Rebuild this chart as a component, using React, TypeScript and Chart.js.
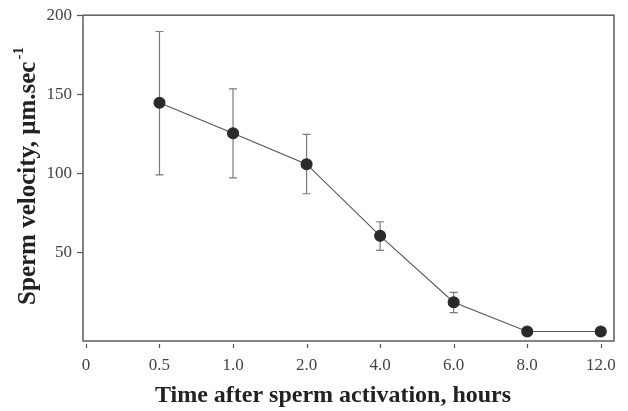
import React, { useEffect, useRef } from "react";
import { Chart, registerables } from "chart.js";

Chart.register(...registerables);

const timeLabels = ["0", "0.5", "1.0", "2.0", "4.0", "6.0", "8.0", "12.0"];
const sampleTimes = ["0.5", "1.0", "2.0", "4.0", "6.0", "8.0", "12.0"];
const meanVelocity = [144.6, 125.4, 105.8, 60.5, 18.5, 0, 0];
const errUpper = [189.7, 153.4, 124.6, 69.4, 24.8, null, null];
const errLower = [99.1, 97.2, 87.1, 51.3, 11.9, null, null];
const yTickValues = [50, 100, 150, 200];

const FONT = "'Liberation Serif', 'Times New Roman', serif";

export default function App() {
  const ref = useRef<HTMLCanvasElement | null>(null);

  useEffect(() => {
    const canvas = ref.current;
    if (!canvas) return;

    const points = sampleTimes.map((t, i) => ({ x: timeLabels.indexOf(t), y: meanVelocity[i] }));

    const errorBars = {
      id: "errorBars",
      beforeDatasetsDraw(chart: any) {
        const { ctx, scales } = chart;
        const xs = scales.x, ys = scales.y;
        ctx.save();
        ctx.strokeStyle = "#7a7a7a";
        ctx.lineWidth = 1.2;
        sampleTimes.forEach((t, i) => {
          const hi = errUpper[i], lo = errLower[i];
          if (hi == null || lo == null) return;
          const px = xs.getPixelForValue(timeLabels.indexOf(t));
          const yh = ys.getPixelForValue(hi);
          const yl = ys.getPixelForValue(lo);
          ctx.beginPath();
          ctx.moveTo(px, yh); ctx.lineTo(px, yl);
          ctx.moveTo(px - 4, yh); ctx.lineTo(px + 4, yh);
          ctx.moveTo(px - 4, yl); ctx.lineTo(px + 4, yl);
          ctx.stroke();
        });
        ctx.restore();
      },
    };

    const frame = {
      id: "frame",
      afterDraw(chart: any) {
        const { ctx, chartArea: a, scales } = chart;
        ctx.save();
        ctx.strokeStyle = "#666";
        ctx.lineWidth = 1.6;
        ctx.strokeRect(a.left, a.top, a.right - a.left, a.bottom - a.top);
        ctx.lineWidth = 1.2;
        ctx.strokeStyle = "#555";
        timeLabels.forEach((_, i) => {
          const px = Math.round(scales.x.getPixelForValue(i)) + 0.5;
          ctx.beginPath();
          ctx.moveTo(px, a.bottom + 3);
          ctx.lineTo(px, a.bottom + 7);
          ctx.stroke();
        });
        yTickValues.forEach((v) => {
          const py = Math.round(scales.y.getPixelForValue(v)) + 0.5;
          ctx.beginPath();
          ctx.moveTo(a.left - 6, py);
          ctx.lineTo(a.left, py);
          ctx.stroke();
        });
        ctx.fillStyle = "#222";
        ctx.font = `bold 24px ${FONT}`;
        ctx.textAlign = "center";
        ctx.textBaseline = "alphabetic";
        ctx.fillText("Time after sperm activation, hours", 333, 402);

        ctx.translate(35, 176);
        ctx.rotate(-Math.PI / 2);
        const main = "Sperm velocity, μm.sec";
        const sup = "-1";
        ctx.font = `bold 25px ${FONT}`;
        const wMain = ctx.measureText(main).width;
        ctx.font = `bold 15px ${FONT}`;
        const wSup = ctx.measureText(sup).width;
        const total = wMain + wSup + 2;
        ctx.textAlign = "left";
        ctx.font = `bold 25px ${FONT}`;
        ctx.fillText(main, -total / 2, 0);
        ctx.font = `bold 15px ${FONT}`;
        ctx.fillText(sup, -total / 2 + wMain + 2, -12);
        ctx.restore();
      },
    };

    const chart = new Chart(canvas, {
      type: "scatter",
      data: {
        datasets: [
          {
            data: points,
            showLine: true,
            borderColor: "#555",
            borderWidth: 1.1,
            backgroundColor: "#2a2a2a",
            pointBackgroundColor: "#2a2a2a",
            pointBorderColor: "#2a2a2a",
            pointRadius: 5.5,
            pointHoverRadius: 5.5,
          },
        ],
      },
      options: {
        responsive: false,
        animation: false,
        layout: { padding: { top: 14, right: 14, left: 0, bottom: 0 } },
        plugins: { legend: { display: false }, tooltip: { enabled: false } },
        scales: {
          x: {
            type: "linear",
            min: -0.04,
            max: 7.18,
            afterBuildTicks: (s: any) => {
              s.ticks = timeLabels.map((_, i) => ({ value: i }));
            },
            afterFit: (s: any) => {
              s.height = 70;
            },
            ticks: {
              callback: (v: any) => timeLabels[v as number] ?? "",
              color: "#444",
              font: { family: FONT, size: 17 },
              padding: 8,
              maxRotation: 0,
              autoSkip: false,
            },
            grid: { display: false, drawTicks: true, tickLength: 6 },
            border: { display: false },
          },
          y: {
            type: "linear",
            min: -6,
            max: 200,
            afterBuildTicks: (s: any) => {
              s.ticks = yTickValues.map((v) => ({ value: v }));
            },
            afterFit: (s: any) => {
              s.width = 83;
            },
            ticks: {
              color: "#444",
              font: { family: FONT, size: 17 },
              padding: 5,
            },
            grid: { display: false, drawTicks: true, tickLength: 6 },
            border: { display: false },
          },
        },
      },
      plugins: [errorBars, frame],
    } as any);

    return () => chart.destroy();
  }, []);

  return (
    <div style={{ position: "fixed", left: 0, top: 0, width: 628, height: 411, background: "#fff" }}>
      <canvas ref={ref} width={628} height={411} style={{ width: 628, height: 411 }} />
    </div>
  );
}
